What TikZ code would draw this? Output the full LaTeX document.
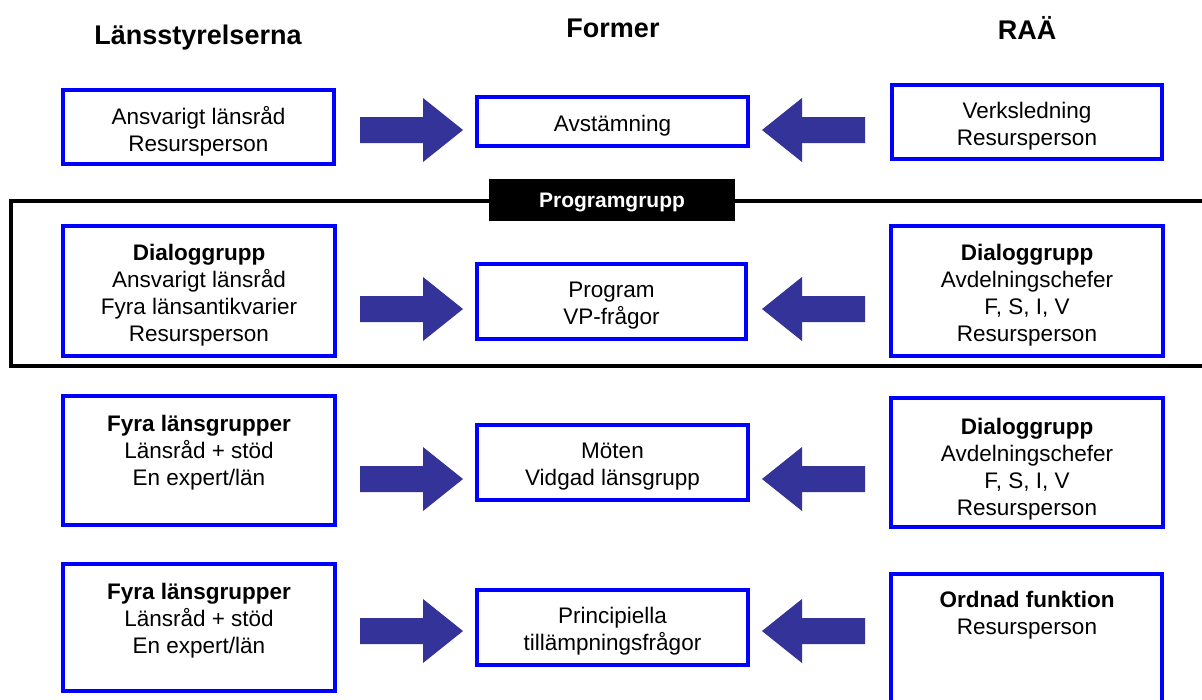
\documentclass[tikz,border=0pt]{standalone}
\usepackage{fontspec}
\setmainfont{Liberation Sans}
\definecolor{boxblue}{RGB}{0,0,255}
\definecolor{arrowblue}{RGB}{51,51,153}
\tikzset{
  bluebox/.style={draw=boxblue, line width=4pt, inner sep=0pt},
  txt/.style={align=center, inner sep=0pt, yshift=-4pt, font=\fontsize{22.5}{27}\selectfont},
  head/.style={inner sep=0pt, font=\fontsize{27}{32}\selectfont\bfseries},
  blockarrow/.style={fill=arrowblue, draw=none},
}
\newcommand{\bx}[5]{% name, x1, y1, x2, y2
  \node[bluebox, minimum width={#4-#2-4pt}, minimum height={#5-#3-4pt}] (#1) at ({(#2+#4)/2},{(#3+#5)/2}) {};}
\newcommand{\rarrow}[2]{% name, y
  \fill[blockarrow] (360,#2-13) -- (423,#2-13) -- (423,#2-32) -- (463,#2) -- (423,#2+32) -- (423,#2+13) -- (360,#2+13) -- cycle;}
\newcommand{\larrow}[2]{% name, y
  \fill[blockarrow] (865,#2-13) -- (802,#2-13) -- (802,#2-32) -- (762,#2) -- (802,#2+32) -- (802,#2+13) -- (865,#2+13) -- cycle;}
\begin{document}
\begin{tikzpicture}[x=1pt,y=-1pt]
\useasboundingbox (0,0) rectangle (1202,699);
\fill[white] (0,0) rectangle (1202,699);

% headers
\node[head] (hL) at (198,38) {Länsstyrelserna};
\node[head] (hF) at (613,28) {Former};
\node[head] (hR) at (1027,28) {RAÄ};

% Programgrupp frame
\draw[line width=3.5pt] (1215,201) -- (11,201) -- (11,366) -- (1215,366);
\node[fill=black, minimum width=246pt, minimum height=42pt, inner sep=0pt] (pg) at (612,200) {};
\node[text=white, font=\fontsize{21}{25}\selectfont\bfseries, inner sep=0pt, yshift=-2pt] (pgt) at (pg) {Programgrupp};

% Row 1
\bx{L1}{61}{88}{336}{166}
\node[txt] (L1t) at (L1) {Ansvarigt länsråd\\Resursperson};
\bx{C1}{475}{95}{750}{148}
\node[txt] (C1t) at (C1) {Avstämning};
\bx{R1}{890}{83}{1164}{161}
\node[txt] (R1t) at (R1) {Verksledning\\Resursperson};
\rarrow{a1}{130}
\larrow{b1}{130}

% Row 2
\bx{L2}{61}{224}{337}{358}
\node[txt] (L2t) at (L2) {\textbf{Dialoggrupp}\\Ansvarigt länsråd\\Fyra länsantikvarier\\Resursperson};
\bx{C2}{475}{262}{748}{341}
\node[txt] (C2t) at (C2) {Program\\VP-frågor};
\bx{R2}{889}{224}{1165}{358}
\node[txt] (R2t) at (R2) {\textbf{Dialoggrupp}\\Avdelningschefer\\F, S, I, V\\Resursperson};
\rarrow{a2}{309}
\larrow{b2}{309}

% Row 3
\bx{L3}{61}{394}{337}{527}
\node[txt] (L3t) at (199,449) {\textbf{Fyra länsgrupper}\\Länsråd + stöd\\En expert/län};
\bx{C3}{475}{423}{750}{502}
\node[txt] (C3t) at (C3) {Möten\\Vidgad länsgrupp};
\bx{R3}{889}{396}{1165}{529}
\node[txt] (R3t) at (1027,465) {\textbf{Dialoggrupp}\\Avdelningschefer\\F, S, I, V\\Resursperson};
\rarrow{a3}{479}
\larrow{b3}{479}

% Row 4
\bx{L4}{61}{562}{337}{693}
\node[txt] (L4t) at (199,617) {\textbf{Fyra länsgrupper}\\Länsråd + stöd\\En expert/län};
\bx{C4}{475}{588}{750}{667}
\node[txt] (C4t) at (C4) {Principiella\\tillämpningsfrågor};
\bx{R4}{889}{572}{1164}{730}
\node[txt] (R4t) at (1027,611) {\textbf{Ordnad funktion}\\Resursperson};
\rarrow{a4}{631}
\larrow{b4}{631}
\end{tikzpicture}
\end{document}
